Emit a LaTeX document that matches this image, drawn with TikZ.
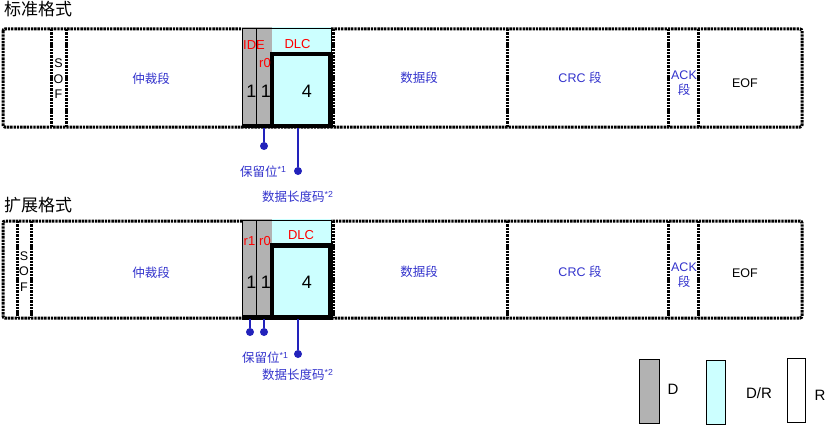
\documentclass[tikz,border=0pt]{standalone}
\usepackage{fontspec}
\setmainfont{Liberation Sans}
\newfontfamily\cjk{Noto Sans CJK SC}
\usetikzlibrary{positioning}
\definecolor{dgray}{RGB}{178,178,178}
\definecolor{lcyan}{RGB}{204,255,255}
\definecolor{lblue}{RGB}{51,51,204}
\definecolor{cblue}{RGB}{34,34,187}

\begin{document}
\begin{tikzpicture}[x=1pt, y=-1pt,
    fieldline/.style={line width=3pt, dash pattern=on 2.4pt off 0.9pt},
    lbl/.style={font=\fontsize{12.5}{15.5}\selectfont, text=lblue, inner sep=0pt, align=center},
    redlbl/.style={font=\fontsize{13}{15}\selectfont, text=red, inner sep=0pt},
    bitval/.style={font=\fontsize{18}{20}\selectfont, inner sep=0pt},
    calldot/.style={circle, fill=cblue, inner sep=0pt, minimum size=8pt},
    callout/.style={cblue, line width=1.3pt},
    calltext/.style={font=\fontsize{12.5}{15}\selectfont, text=lblue, inner sep=0pt, anchor=west},
    fmttitle/.style={font=\fontsize{17}{20}\selectfont\cjk, inner sep=0pt, anchor=west},
    keybox/.style={draw, line width=1pt},
  ]
  \useasboundingbox (0,0) rectangle (827,428);

  % ---------- standard format ----------
  \node[fmttitle] (stdtitle) at (4,9) {标准格式};
  \draw[fieldline, rounded corners=2pt] (3,29) rectangle (802,127);
  \foreach \x in {51,66,333,507,668,698}
    \draw[fieldline] (\x,29) -- (\x,127);
  % IDE, r0 and DLC cells
  \fill[dgray] (242,27) rectangle (272,127);
  \fill[lcyan] (272,27) rectangle (331,127);
  \draw[line width=0.7pt] (242,28.5) rectangle (331,127);
  \draw[line width=1pt] (256,28.5) -- (256,127);
  \draw[line width=4.5pt] (272,54) rectangle (330.5,126);
  \draw[line width=4.5pt] (242,126) -- (272,126);
  % field names
  \node[inner sep=0pt, align=center, font=\fontsize{12.5}{15.5}\selectfont] (sof1) at (58.5,79) {S\\O\\F};
  \node[lbl] (arb1) at (151,79) {\cjk 仲裁段};
  \node[lbl] (data1) at (419,78) {\cjk 数据段};
  \node[lbl] (crc1) at (580,78) {CRC {\cjk 段}};
  \node[lbl] (ack1) at (684,83) {ACK\\{\cjk 段}};
  \node[lbl, text=black] (eof1) at (745,83) {EOF};
  \node[redlbl] (ide1) at (254,45) {IDE};
  \node[redlbl] (rz1) at (265,63) {r0};
  \node[redlbl] (dlc1) at (297.5,44) {DLC};
  \node[bitval] (b1) at (251.5,91) {1};
  \node[bitval] (b2) at (266,91) {1};
  \node[bitval] (b3) at (307,91) {4};
  % callouts
  \coordinate (rsv1) at (264,128);
  \node[calldot] (rsvdot1) at (264,146) {};
  \draw[callout] (rsv1) -- (rsvdot1);
  \coordinate (len1) at (298,128);
  \node[calldot] (lendot1) at (298,171) {};
  \draw[callout] (len1) -- (lendot1);
  \node[calltext] (rsvtxt1) at (240,172) {{\cjk 保留位}\textsuperscript{*1}};
  \node[calltext] (lentxt1) at (262,197) {{\cjk 数据长度码}\textsuperscript{*2}};

  % ---------- extended format ----------
  \node[fmttitle] (exttitle) at (4,205) {扩展格式};
  \draw[fieldline, rounded corners=2pt] (3,221) rectangle (802,318);
  \foreach \x in {17,31,333,507,668,698}
    \draw[fieldline] (\x,221) -- (\x,318);
  % r1, r0 and DLC cells
  \fill[dgray] (242,219) rectangle (272,318);
  \fill[lcyan] (272,219) rectangle (331,318);
  \draw[line width=0.7pt] (242,220.5) rectangle (331,318);
  \draw[line width=1pt] (256,220.5) -- (256,318);
  \draw[line width=4.5pt] (272,245.5) rectangle (330.5,317.5);
  \draw[line width=4.5pt] (242,317.5) -- (272,317.5);
  % field names
  \node[inner sep=0pt, align=center, font=\fontsize{12.5}{15.5}\selectfont] (sof2) at (24,271.5) {S\\O\\F};
  \node[lbl] (arb2) at (151,273) {\cjk 仲裁段};
  \node[lbl] (data2) at (419,272) {\cjk 数据段};
  \node[lbl] (crc2) at (580,272) {CRC {\cjk 段}};
  \node[lbl] (ack2) at (684,275) {ACK\\{\cjk 段}};
  \node[lbl, text=black] (eof2) at (745,273) {EOF};
  \node[redlbl] (rone2) at (249.5,241) {r1};
  \node[redlbl] (rz2) at (265,241) {r0};
  \node[redlbl] (dlc2) at (301,235) {DLC};
  \node[bitval] (b4) at (251.5,282) {1};
  \node[bitval] (b5) at (266,282) {1};
  \node[bitval] (b6) at (307,282) {4};
  % callouts
  \coordinate (rsv2) at (250,319);
  \node[calldot] (rsvdot2) at (250,332) {};
  \draw[callout] (rsv2) -- (rsvdot2);
  \coordinate (rsv3) at (264,319);
  \node[calldot] (rsvdot3) at (264,332) {};
  \draw[callout] (rsv3) -- (rsvdot3);
  \coordinate (len2) at (298,319);
  \node[calldot] (lendot2) at (298,354) {};
  \draw[callout] (len2) -- (lendot2);
  \node[calltext] (rsvtxt2) at (242,358) {{\cjk 保留位}\textsuperscript{*1}};
  \node[calltext] (lentxt2) at (262,375) {{\cjk 数据长度码}\textsuperscript{*2}};

  % ---------- legend ----------
  \draw[keybox, fill=dgray] (639,359) rectangle (659,423);
  \node[font=\fontsize{15}{17}\selectfont, inner sep=0pt] (keyd) at (673,389) {D};
  \draw[keybox, fill=lcyan] (706,360) rectangle (725,424);
  \node[font=\fontsize{15}{17}\selectfont, inner sep=0pt] (keydr) at (759,393) {D/R};
  \draw[keybox, fill=white] (787,358) rectangle (805,422);
  \node[font=\fontsize{15}{17}\selectfont, inner sep=0pt] (keyr) at (820,395) {R};
\end{tikzpicture}
\end{document}
